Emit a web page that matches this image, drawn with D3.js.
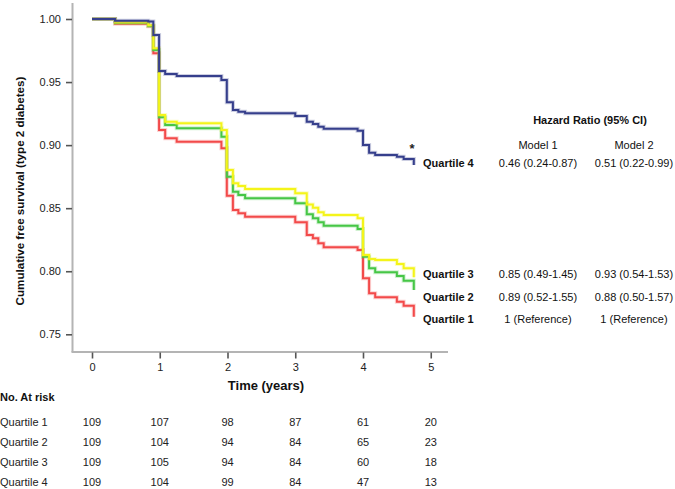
<!DOCTYPE html>
<html><head><meta charset="utf-8">
<script src="https://cdn.jsdelivr.net/npm/d3@7"></script>
<style>
html,body{margin:0;padding:0;background:#fff;}
svg{display:block;}
</style></head>
<body>
<svg id="chart" width="675" height="489"></svg>
<script>
// ---- data ----
const stepTimes = [0, 0.34, 0.83, 0.905, 0.99, 1.08, 1.25, 1.91, 1.99, 2.08, 2.16, 2.26, 3.0, 3.17, 3.26, 3.34, 3.42, 3.92, 4.0, 4.09, 4.18, 4.5, 4.6, 4.75];
const quartile1 = [1, 0.9963, 0.9942, 0.9728, 0.912, 0.9054, 0.9027, 0.8975, 0.8599, 0.8485, 0.846, 0.8433, 0.8388, 0.8287, 0.8261, 0.8221, 0.819, 0.8168, 0.7944, 0.7825, 0.7793, 0.7758, 0.7727, 0.764];
const quartile2 = [1, 0.997, 0.9945, 0.9754, 0.922, 0.916, 0.9133, 0.9067, 0.875, 0.863, 0.8605, 0.8578, 0.8539, 0.8451, 0.842, 0.8388, 0.8361, 0.8335, 0.8115, 0.8023, 0.7992, 0.7962, 0.7925, 0.7851];
const quartile3 = [1, 0.9974, 0.995, 0.9768, 0.9238, 0.9186, 0.9173, 0.912, 0.8803, 0.8697, 0.8676, 0.8652, 0.8618, 0.853, 0.8504, 0.8467, 0.8446, 0.842, 0.8129, 0.8097, 0.8089, 0.8057, 0.8023, 0.7952];
const quartile4 = [1, 0.9987, 0.998, 0.9873, 0.9588, 0.9564, 0.9548, 0.9516, 0.934, 0.9278, 0.9265, 0.9252, 0.9231, 0.9186, 0.9167, 0.9146, 0.913, 0.9114, 0.9001, 0.894, 0.8922, 0.8908, 0.889, 0.8842];

const seriesNames = ["Quartile 1", "Quartile 2", "Quartile 3", "Quartile 4"];
const seriesColors = ["#f24a4a", "#46c646", "#f4f41a", "#363f8c"];

const xTicks = [0, 1, 2, 3, 4, 5];
const yTicks = [0.75, 0.80, 0.85, 0.90, 0.95, 1.00];

const atRiskQ1 = [109, 107, 98, 87, 61, 20];
const atRiskQ2 = [109, 104, 94, 84, 65, 23];
const atRiskQ3 = [109, 105, 94, 84, 60, 18];
const atRiskQ4 = [109, 104, 99, 84, 47, 13];

const hrModel1 = ["1 (Reference)", "0.89 (0.52-1.55)", "0.85 (0.49-1.45)", "0.46 (0.24-0.87)"];
const hrModel2 = ["1 (Reference)", "0.88 (0.50-1.57)", "0.93 (0.54-1.53)", "0.51 (0.22-0.99)"];

// ---- layout ----
const svg = d3.select("#chart");
const sans = "'Liberation Sans',Arial,Helvetica,sans-serif";

const x = d3.scaleLinear().domain([0, 5]).range([92, 430.75]);
const y = d3.scaleLinear().domain([0.75, 1.0]).range([334.3, 19]);
const axisX0 = 72.5, axisY0 = 352;

// axis lines
svg.append("line").attr("x1", axisX0).attr("x2", axisX0).attr("y1", 3).attr("y2", axisY0)
  .attr("stroke", "#b4b4b4").attr("stroke-width", 2);
svg.append("line").attr("x1", axisX0 - 1).attr("x2", 448).attr("y1", axisY0).attr("y2", axisY0)
  .attr("stroke", "#b4b4b4").attr("stroke-width", 2);

// y axis
const yAxis = d3.axisLeft(y).tickValues(yTicks).tickFormat(d3.format(".2f")).tickSize(6).tickPadding(5);
const gy = svg.append("g").attr("transform", `translate(${axisX0 - 0.5},0)`).call(yAxis);
gy.select(".domain").remove();
gy.selectAll(".tick line").attr("stroke", "#555").attr("stroke-width", 1.6);
gy.selectAll(".tick text").attr("font-family", sans).attr("font-size", 11).attr("fill", "#222");

// x axis
const xAxis = d3.axisBottom(x).tickValues(xTicks).tickFormat(d3.format("d")).tickSize(6).tickPadding(5);
const gx = svg.append("g").attr("transform", `translate(0,${axisY0 + 0.5})`).call(xAxis);
gx.select(".domain").remove();
gx.selectAll(".tick line").attr("stroke", "#555").attr("stroke-width", 1.6);
gx.selectAll(".tick text").attr("font-family", sans).attr("font-size", 11).attr("fill", "#222");

// axis titles
svg.append("text").attr("x", 266).attr("y", 390).attr("text-anchor", "middle")
  .attr("font-family", sans).attr("font-weight", "bold").attr("font-size", 13).attr("fill", "#111")
  .text("Time (years)");
svg.append("text").attr("transform", "translate(24,191) rotate(-90)").attr("text-anchor", "middle")
  .attr("font-family", sans).attr("font-weight", "bold").attr("font-size", 11.6).attr("fill", "#111")
  .text("Cumulative free survival (type 2 diabetes)");

// curves
const allSeries = [quartile1, quartile2, quartile3, quartile4];
const line = d3.line().x(d => x(d[0])).y(d => y(d[1])).curve(d3.curveStepAfter);
allSeries.forEach((vals, i) => {
  const pts = stepTimes.map((t, j) => [t, vals[j]]);
  svg.append("path").attr("d", line(pts)).attr("fill", "none")
    .attr("stroke", seriesColors[i]).attr("stroke-opacity", 0.25).attr("stroke-width", 4);
  svg.append("path").attr("d", line(pts)).attr("fill", "none")
    .attr("stroke", seriesColors[i]).attr("stroke-width", 2);
});

// asterisk
svg.append("text").attr("x", 412).attr("y", 153).attr("text-anchor", "middle")
  .attr("font-family", sans).attr("font-weight", "bold").attr("font-size", 13).attr("fill", "#222").text("*");

// hazard ratio table
const hrX0 = 423, m1X = 538, m2X = 634;
const hrRowY = [319, 297, 274, 163];
svg.append("text").attr("x", 590).attr("y", 124).attr("text-anchor", "middle")
  .attr("font-family", sans).attr("font-weight", "bold").attr("font-size", 11).attr("fill", "#111")
  .text("Hazard Ratio (95% CI)");
svg.append("text").attr("x", m1X).attr("y", 149).attr("text-anchor", "middle")
  .attr("font-family", sans).attr("font-size", 11).attr("fill", "#111").text("Model 1");
svg.append("text").attr("x", m2X).attr("y", 149).attr("text-anchor", "middle")
  .attr("font-family", sans).attr("font-size", 11).attr("fill", "#111").text("Model 2");
seriesNames.forEach((n, i) => {
  svg.append("text").attr("x", hrX0).attr("y", hrRowY[i] + 4)
    .attr("font-family", sans).attr("font-weight", "bold").attr("font-size", 11).attr("fill", "#111").text(n);
  svg.append("text").attr("x", m1X).attr("y", hrRowY[i] + 4).attr("text-anchor", "middle")
    .attr("font-family", sans).attr("font-size", 11).attr("fill", "#111").text(hrModel1[i]);
  svg.append("text").attr("x", m2X).attr("y", hrRowY[i] + 4).attr("text-anchor", "middle")
    .attr("font-family", sans).attr("font-size", 11).attr("fill", "#111").text(hrModel2[i]);
});

// number at risk
svg.append("text").attr("x", 0).attr("y", 401)
  .attr("font-family", sans).attr("font-weight", "bold").attr("font-size", 11).attr("fill", "#111")
  .text("No. At risk");
const atRisk = [atRiskQ1, atRiskQ2, atRiskQ3, atRiskQ4];
const riskRowY = [421.5, 441.7, 461.7, 482];
atRisk.forEach((row, i) => {
  svg.append("text").attr("x", 0).attr("y", riskRowY[i] + 4)
    .attr("font-family", sans).attr("font-size", 11).attr("fill", "#222").text(seriesNames[i]);
  row.forEach((v, j) => {
    svg.append("text").attr("x", x(xTicks[j])).attr("y", riskRowY[i] + 4).attr("text-anchor", "middle")
      .attr("font-family", sans).attr("font-size", 11).attr("fill", "#222").text(v);
  });
});
</script>
</body></html>
